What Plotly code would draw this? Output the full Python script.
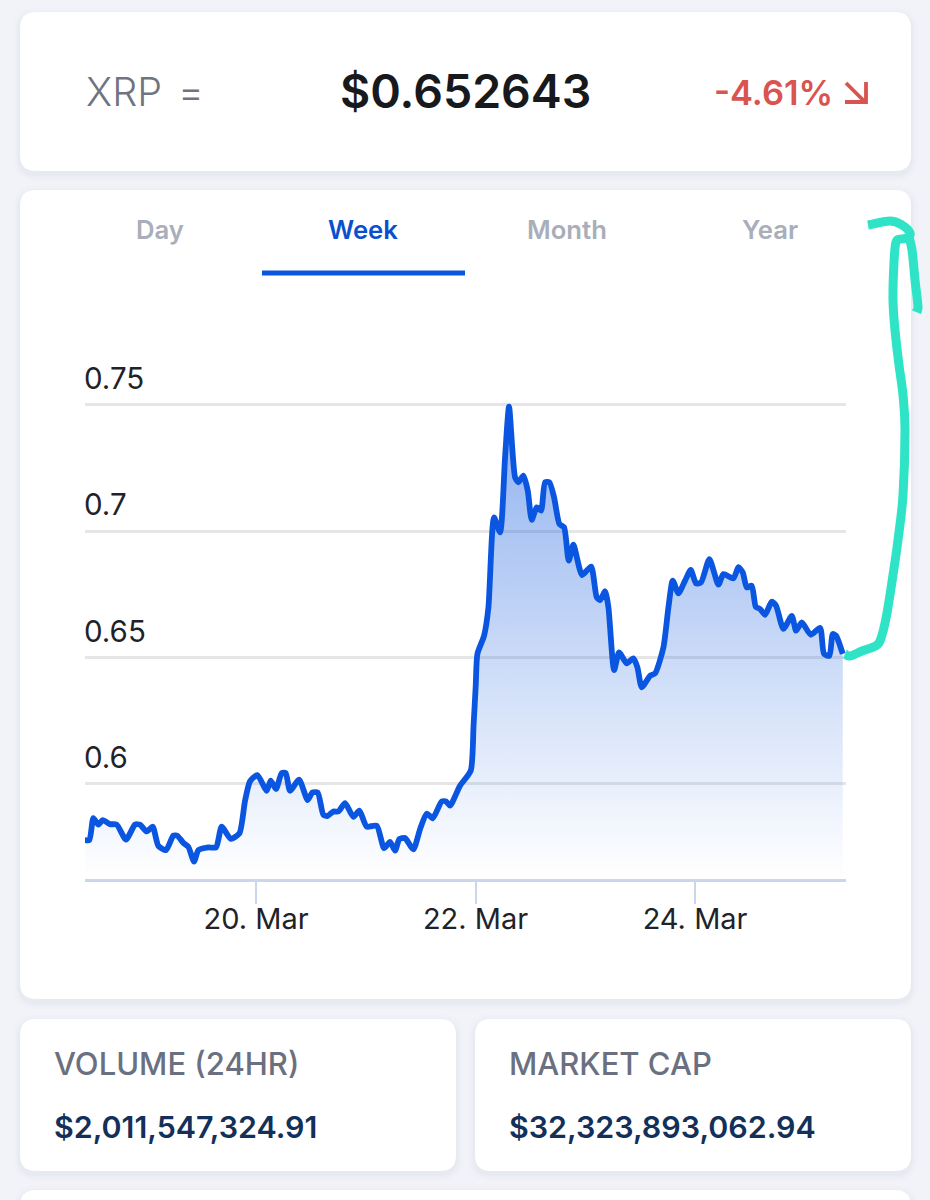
import pandas as pd
import plotly.graph_objects as go

W, H = 930, 1200
FONT = "Inter"

# ---- data (hours after 20 Mar 00:00, price in USD) ----
hours = [-37.47,-36.45,-35.57,-34.48,-33.53,-31.93,-30.47,-28.43,-26.46,-25.37,-23.91,-22.60,-21.36,-19.68,-18.08,-17.21,
         -15.89,-14.80,-13.56,-12.61,-10.43,-8.75,-7.51,-5.54,-3.65,-2.41,-1.32,0.29,2.33,3.20,4.37,5.61,6.48,7.43,9.40,
         11.29,12.31,13.48,14.72,15.60,16.91,18.00,19.46,21.28,22.59,24.20,26.38,27.99,29.30,30.39,31.34,32.58,34.40,
         35.86,37.32,38.63,40.60,41.54,42.42,44.60,46.94,47.56,48.04,48.40,49.86,50.81,52.04,53.36,54.45,55.32,56.64,
         57.37,58.46,59.41,60.28,61.37,62.32,63.20,64.14,65.17,66.33,67.35,68.37,69.39,71.29,73.26,74.49,75.22,76.32,
         77.05,78.29,79.38,81.05,82.51,83.39,84.34,86.16,87.25,89.08,90.17,91.12,92.36,93.81,95.05,96.22,97.31,99.13,
         101.10,102.20,104.38,105.48,106.42,107.30,108.39,109.27,110.21,111.31,112.76,113.71,115.32,117.14,118.09,119.33,
         121.29,123.33,124.20,125.38,126.10,126.83,128.29]
prices = [0.5778,0.5778,0.5865,0.5839,0.5857,0.5841,0.5839,0.5780,0.5839,0.5839,0.5812,0.5831,0.5755,0.5738,0.5796,0.5795,
          0.5767,0.5751,0.5693,0.5738,0.5749,0.5749,0.5831,0.5783,0.5804,0.5933,0.6010,0.6035,0.5973,0.6013,0.5980,0.6043,0.6043,0.5973,0.6017,
          0.5936,0.5966,0.5966,0.5878,0.5873,0.5891,0.5891,0.5924,0.5870,0.5894,0.5831,0.5835,0.5746,0.5771,0.5736,0.5782,0.5786,0.5741,
          0.5821,0.5883,0.5864,0.5931,0.5931,0.5914,0.5993,0.6052,0.6229,0.6390,0.6514,0.6586,0.6698,0.7054,0.6995,0.7292,0.7492,0.7213,
          0.7193,0.7219,0.7160,0.7044,0.7094,0.7081,0.7193,0.7193,0.7133,0.7028,0.7015,0.6883,0.6946,0.6826,0.6860,0.6738,0.6727,0.6762,
          0.6698,0.6450,0.6520,0.6477,0.6497,0.6461,0.6382,0.6428,0.6437,0.6540,0.6698,0.6804,0.6754,0.6804,0.6846,0.6793,0.6797,0.6889,
          0.6788,0.6830,0.6813,0.6857,0.6837,0.6777,0.6784,0.6701,0.6692,0.6669,0.6721,0.6705,0.6613,0.6665,0.6606,0.6639,
          0.6590,0.6617,0.6514,0.6507,0.6593,0.6586,0.6514]
y_ticks = [0.6, 0.65, 0.7, 0.75]
y_tick_labels = ["0.6", "0.65", "0.7", "0.75"]
x_ticks = ["2023-03-20", "2023-03-22", "2023-03-24"]
x_tick_labels = ["20. Mar", "22. Mar", "24. Mar"]
tabs = ["Day", "Week", "Month", "Year"]

base = pd.Timestamp("2023-03-20")
dates = [base + pd.to_timedelta(h, "h") for h in hours]

BG = "#f1f3f9"
BLUE = "#0a56e0"
TEAL = "#2fe4c6"

def px(x): return x / W
def py(y): return 1 - y / H

def rrect(x0, y0, x1, y1, r):
    X = lambda v: f"{px(v):.5f}"
    Y = lambda v: f"{py(v):.5f}"
    return (f"M{X(x0+r)},{Y(y0)} L{X(x1-r)},{Y(y0)} Q{X(x1)},{Y(y0)} {X(x1)},{Y(y0+r)} "
            f"L{X(x1)},{Y(y1-r)} Q{X(x1)},{Y(y1)} {X(x1-r)},{Y(y1)} L{X(x0+r)},{Y(y1)} "
            f"Q{X(x0)},{Y(y1)} {X(x0)},{Y(y1-r)} L{X(x0)},{Y(y0+r)} Q{X(x0)},{Y(y0)} {X(x0+r)},{Y(y0)} Z")

def smooth(points):
    X = lambda v: f"{px(v):.5f}"
    Y = lambda v: f"{py(v):.5f}"
    d = f"M{X(points[0][0])},{Y(points[0][1])}"
    n = len(points)
    for i in range(n - 1):
        p0 = points[max(i - 1, 0)]; p1 = points[i]; p2 = points[i + 1]; p3 = points[min(i + 2, n - 1)]
        c1 = (p1[0] + (p2[0] - p0[0]) / 6, p1[1] + (p2[1] - p0[1]) / 6)
        c2 = (p2[0] - (p3[0] - p1[0]) / 6, p2[1] - (p3[1] - p1[1]) / 6)
        d += f" C{X(c1[0])},{Y(c1[1])} {X(c2[0])},{Y(c2[1])} {X(p2[0])},{Y(p2[1])}"
    return d

shapes = []
cards = [(20, 12, 911, 171), (20, 190, 911, 999), (20, 1019, 456, 1171), (475, 1019, 911, 1171), (20, 1190, 911, 1240)]
for c in cards:
    for grow, a in ((7, 0.012), (4, 0.016), (2, 0.02)):
        shapes.append(dict(type="path", path=rrect(c[0]-grow, c[1]-grow+3, c[2]+grow, c[3]+grow+3, 16+grow),
                           xref="paper", yref="paper", fillcolor=f"rgba(60,70,110,{a})", line_width=0, layer="below"))
    shapes.append(dict(type="path", path=rrect(*c, 16), xref="paper", yref="paper",
                       fillcolor="white", line_width=0, layer="below"))

# active tab underline
shapes.append(dict(type="rect", xref="paper", yref="paper", x0=px(262), x1=px(465), y0=py(275.5), y1=py(270.5),
                   fillcolor=BLUE, line_width=0))
# red corner arrow
X = lambda v: f"{px(v):.5f}"
Y = lambda v: f"{py(v):.5f}"
shapes.append(dict(type="path", xref="paper", yref="paper", line=dict(color="#d9534f", width=3.8),
                   path=f"M{X(846)},{Y(83)} L{X(865)},{Y(102)} M{X(845)},{Y(102)} L{X(866)},{Y(102)} L{X(866)},{Y(82)}"))
# hand-drawn teal scribble
scribble = [(845,654),(850,656),(862,651),(877,645),(882,635),(887,613),(893,575),(898,540),(903,495),(905,430),
            (903,395),(899,365),(895,330),(893,300),(894,262),(896,242),(901,239),(907,238),(910,233),(902,225),
            (890,221),(868,225)]
hook = [(908,233),(912,250),(915,280),(918,307),(916,312)]
for s in (scribble, hook):
    shapes.append(dict(type="path", xref="paper", yref="paper", path=smooth(s),
                       line=dict(color=TEAL, width=9)))

def txt(x, y, s, size, color, anchor="left", weight=400):
    return dict(x=px(x), y=py(y), xref="paper", yref="paper", text=s, showarrow=False, xanchor=anchor,
                yanchor="middle", xshift=0, font=dict(family=FONT, size=size, color=color, weight=weight),
                borderpad=0, borderwidth=0)

tab_x = [160, 363, 567, 770]
annotations = [
    txt(86, 92, "XRP", 39.5, "#6f7480", weight=300),
    txt(191, 92, "=", 39.5, "#6f7480", "center", weight=300),
    txt(465, 91, "$0.652643", 46.5, "#17191d", "center", 600),
    txt(714, 92, "-4.61%", 34.5, "#d9534f", weight=600),
    txt(54, 1063, "VOLUME (24HR)", 31, "#6b7080", weight=500),
    txt(509, 1063, "MARKET CAP", 31, "#6b7080", weight=500),
    txt(54, 1127, "$2,011,547,324.91", 30.4, "#12305a", weight=600),
    txt(509, 1127, "$32,323,893,062.94", 30.4, "#12305a", weight=600),
]
for lab, x in zip(tabs, tab_x):
    annotations.append(txt(x, 230, lab, 25.7, "#0a4fd0" if lab == "Week" else "#a9aeba", "center", 600))
for v, lab in zip(y_ticks, y_tick_labels):
    annotations.append(dict(x=px(82), xref="paper", y=v, yref="y", text=lab, showarrow=False, xanchor="left",
                            yanchor="middle", yshift=27, font=dict(family=FONT, size=29.5, color="#1f2329")))

fig = go.Figure(go.Scatter(
    x=dates, y=prices, mode="lines", line=dict(color=BLUE, width=5.8, shape="spline", smoothing=0.6),
    fill="tozeroy", hoverinfo="skip",
    fillgradient=dict(type="vertical", start=0.75, stop=0.5624,
                      colorscale=[[0, "rgba(11,85,220,0.46)"], [1, "rgba(11,85,220,0)"]]),
))

fig.update_layout(
    width=W, height=H, margin=dict(l=0, r=0, t=0, b=0), autosize=False,
    paper_bgcolor=BG, plot_bgcolor="rgba(0,0,0,0)", showlegend=False,
    shapes=shapes, annotations=annotations,
    xaxis=dict(domain=[px(85), px(846)], type="date",
               range=[base + pd.to_timedelta(-37.4, "h"), base + pd.to_timedelta(129.0, "h")],
               tickvals=x_ticks, ticktext=x_tick_labels, ticks="outside", ticklen=22, tickwidth=2, tickcolor="#ccd6eb",
               ticklabelstandoff=-10,
               showline=True, linecolor="#ccd6eb", linewidth=2.5, showgrid=False, zeroline=False,
               tickfont=dict(family=FONT, size=29, color="#1f2329")),
    yaxis=dict(domain=[py(879), py(390)], range=[0.5624, 0.7558], tickvals=y_ticks, showticklabels=False,
               gridcolor="#e6e6e6", gridwidth=2.5, zeroline=False, showline=False, ticks=""),
)

fig.write_html("out.html", config=dict(displayModeBar=False),
               post_script="document.body.style.margin='0';document.body.style.overflow='hidden';")
